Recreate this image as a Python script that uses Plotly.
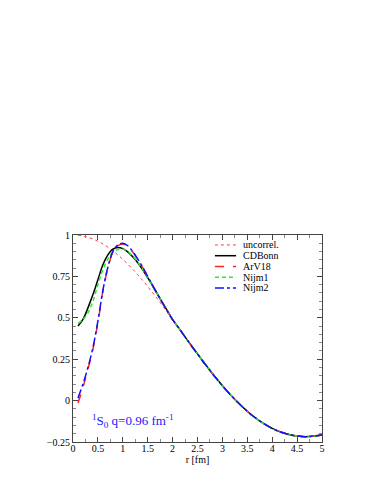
import plotly.graph_objects as go

# r grid (fm)
r_near = [0.1, 0.2, 0.3, 0.4, 0.5, 0.6, 0.7, 0.8, 0.9, 1.0,
          1.1, 1.2, 1.3, 1.4, 1.5, 1.6, 1.7, 1.8, 1.9]
r_far = [2.0, 2.1, 2.2, 2.3, 2.4, 2.5, 2.6, 2.7, 2.8, 2.9, 3.0,
         3.2, 3.4, 3.6, 3.8, 4.0, 4.2, 4.4, 4.6, 4.8, 5.0]
r = r_near + r_far

# tail shared by all curves beyond ~2 fm
tail = [0.489, 0.448, 0.406, 0.364, 0.322, 0.282, 0.241, 0.202, 0.163, 0.126, 0.090,
        0.023, -0.037, -0.090, -0.133, -0.168, -0.193, -0.209, -0.217, -0.216, -0.208]

uncorrel = [0.998, 0.994, 0.986, 0.976, 0.962, 0.946, 0.927, 0.905, 0.880, 0.853,
            0.824, 0.793, 0.760, 0.725, 0.689, 0.651, 0.612, 0.572, 0.531] + tail
cdbonn = [0.45, 0.49, 0.56, 0.64, 0.73, 0.82, 0.88, 0.915, 0.925, 0.918,
          0.898, 0.868, 0.832, 0.79, 0.742, 0.692, 0.642, 0.59, 0.54] + tail
arv18 = [-0.015, 0.08, 0.19, 0.31, 0.47, 0.66, 0.80, 0.895, 0.935, 0.945,
         0.93, 0.897, 0.853, 0.803, 0.75, 0.695, 0.64, 0.588, 0.538] + tail
nijm1 = [0.465, 0.49, 0.53, 0.60, 0.70, 0.79, 0.855, 0.895, 0.913, 0.915,
         0.90, 0.872, 0.835, 0.792, 0.743, 0.692, 0.641, 0.589, 0.539] + tail
nijm2 = [0.015, 0.10, 0.20, 0.32, 0.48, 0.665, 0.805, 0.90, 0.94, 0.95,
         0.935, 0.90, 0.855, 0.805, 0.75, 0.695, 0.64, 0.588, 0.538] + tail

names = ['uncorrel.', 'CDBonn', 'ArV18', 'Nijm1', 'Nijm2']
series = [uncorrel, cdbonn, arv18, nijm1, nijm2]
styles = [dict(color='#ff4040', width=1, dash='dot'),
          dict(color='black', width=1.5),
          dict(color='#ff2020', width=1.5, dash='dash'),
          dict(color='#22ee22', width=1.5, dash='4px,3px'),
          dict(color='#1010ff', width=1.5, dash='dashdot')]

SERIF = 'Liberation Serif, Times New Roman, serif'

fig = go.Figure()
for name, ys, st in zip(names, series, styles):
    fig.add_trace(go.Scatter(x=r, y=ys, name=name, mode='lines', line_shape='spline',
                             line=st, showlegend=False))

# compact legend drawn by hand (plotly's own rows are too tall)
leg_top, leg_step = 0.952, 0.052
for i, (name, st) in enumerate(zip(names, styles)):
    yy = leg_top - i * leg_step
    fig.add_shape(type='line', xref='paper', yref='paper',
                  x0=0.57, x1=0.655, y0=yy, y1=yy, line=st)
    fig.add_annotation(x=0.675, y=yy, xref='paper', yref='paper', showarrow=False,
                       xanchor='left', yanchor='middle', text=name,
                       font=dict(size=10, family=SERIF))

fig.add_annotation(x=1.2, y=-0.125, xref='x', yref='y', showarrow=False,
                   text='<sup>1</sup>S<sub>0</sub> q=0.96 fm<sup>-1</sup>',
                   font=dict(color='#2020ff', size=13, family=SERIF))

axis_common = dict(showline=True, linecolor='#444', linewidth=1, mirror='ticks',
                   ticks='inside', ticklen=5, tickcolor='#444', showgrid=False,
                   zeroline=False, tickfont=dict(size=10, family=SERIF))
fig.update_xaxes(range=[0, 5], dtick=0.5, tick0=0, ticklabelstandoff=-3,
                 minor=dict(dtick=0.25, ticks='inside', ticklen=3, tickcolor='#888'),
                 title=dict(text='r [fm]', font=dict(size=10, family=SERIF), standoff=0),
                 **axis_common)
fig.update_yaxes(range=[-0.25, 1], dtick=0.25, tick0=0,
                 minor=dict(dtick=0.05, ticks='inside', ticklen=3, tickcolor='#888'),
                 **axis_common)

fig.update_layout(width=379, height=491,
                  margin=dict(l=65, r=65, t=227, b=57),
                  plot_bgcolor='white', paper_bgcolor='white',
                  font=dict(family=SERIF, color='black', size=10),
                  showlegend=False)

fig.write_html("out.html")
